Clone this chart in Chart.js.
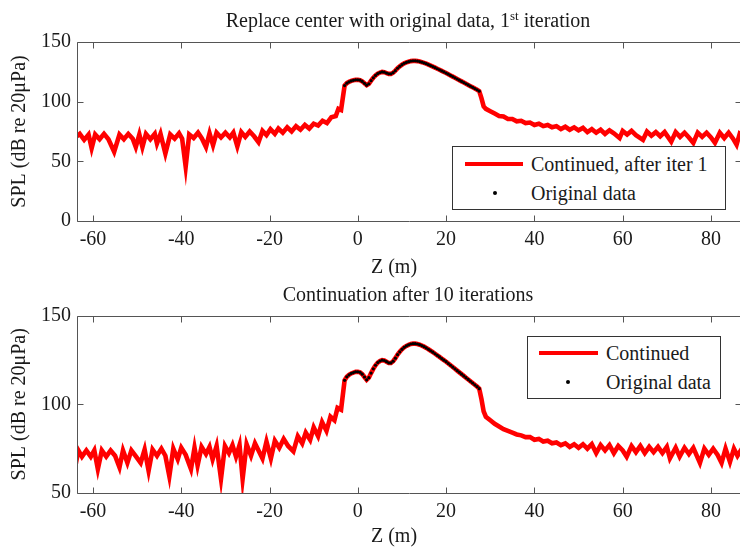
<!DOCTYPE html>
<html><head><meta charset="utf-8">
<script src="https://cdn.jsdelivr.net/npm/chart.js@4.4.1/dist/chart.umd.min.js"></script>
<style>
html,body{margin:0;padding:0;width:740px;height:554px;overflow:hidden;background:#fff;}
body{position:relative;font-family:'Liberation Serif','Times New Roman',serif;color:#1a1a1a;}
.cw{position:absolute;left:0;}
.t{position:absolute;font-size:20px;line-height:20px;white-space:nowrap;}
.ctr{transform:translateX(-50%);}
sup{font-size:13px;line-height:0;vertical-align:7px;}
.leg{position:absolute;border:1px solid #333;background:#fff;box-sizing:border-box;}
.ln{position:absolute;height:4px;background:#ff0000;}
.dot{position:absolute;width:4px;height:4px;border-radius:50%;background:#000;}
</style>
</head><body>
<div class="cw" style="top:0"><canvas id="c1" width="800" height="280"></canvas></div>
<div class="cw" style="top:280px"><canvas id="c2" width="800" height="274"></canvas></div>

<div class="t ctr" style="left:408px;top:10px">Replace center with original data, 1<sup>st</sup> iteration</div>
<div class="t ctr" style="left:408px;top:284px">Continuation after 10 iterations</div>
<div class="t ctr" style="left:394px;top:256px">Z (m)</div>
<div class="t ctr" style="left:394px;top:525px">Z (m)</div>

<div class="leg" style="left:452px;top:146px;width:274px;height:64px"></div>
<div class="ln" style="left:465px;top:162px;width:58px"></div>
<div class="t" style="left:531px;top:154px">Continued, after iter 1</div>
<div class="dot" style="left:493px;top:191px"></div>
<div class="t" style="left:531px;top:183px">Original data</div>

<div class="leg" style="left:527px;top:336px;width:194px;height:63px"></div>
<div class="ln" style="left:539px;top:351px;width:59px"></div>
<div class="t" style="left:606px;top:343px">Continued</div>
<div class="dot" style="left:566px;top:380px"></div>
<div class="t" style="left:606px;top:372px">Original data</div>

<script>
// ---- data ----
const xTicks = [-60,-40,-20,0,20,40,60,80];
const yTicksTop = [0,50,100,150];
const yTicksBottom = [50,100,150];

// original (measured) data, centre region
const origZ = [-3,-2.5,-2,-1.5,-1,-0.5,0,0.5,1,1.5,2,2.5,3,3.5,4,4.5,5,5.5,6,6.5,7,7.5,8,8.5,9,9.5,10,10.5,11,11.5,12,12.5,13,13.5,14,14.5,15,15.5,16,16.5,17,17.5,18,18.5,19,19.5,20,20.5,21,21.5,22,22.5,23,23.5,24,24.5,25,25.5,26,26.5,27,27.5];
const origSPL = [113.5,115.5,116.6,117.4,117.9,118.3,118.3,118.0,117.0,115.4,113.8,115.0,117.6,120.0,122.0,123.5,124.4,124.9,124.7,124.0,123.3,123.3,124.3,126.0,128.0,129.6,131.0,132.1,132.9,133.5,134.0,134.2,134.2,134.0,133.6,133.1,132.5,131.8,131.0,130.2,129.4,128.5,127.6,126.7,125.8,124.9,124.0,123.0,122.0,121.0,120.0,119.0,118.0,117.0,116.0,115.0,114.0,113.0,112.0,111.0,110.0,108.8];

// continuation after iteration 1 (outside the centre)
const it1LeftZ = [-64,-63,-62,-61,-60.3,-59.5,-58.5,-57.5,-56.5,-55.2,-54,-53,-52,-51,-50.3,-49.5,-48.8,-48,-47,-46,-45.5,-44.7,-43.6,-42.5,-41.5,-40.5,-39.8,-39,-38.2,-37.2,-36.2,-35.3,-34.4,-33.6,-32.8,-32,-31,-30,-29,-28.2,-27.3,-26.4,-25.5,-24.5,-23.5,-22.5,-21.6,-20.7,-19.8,-18.8,-18,-17,-16,-15,-14,-13,-12,-11,-10,-9,-8,-7,-6,-5,-4.4,-3.8];
const it1LeftSPL = [70,73,68,72.5,61,72.5,68.5,73,68.5,58,72.5,68.5,73,69,62,72.5,62,73,68.5,73,65,73,56.5,72.5,69,73.5,69,45.5,72.5,69.5,74,69,62,73.5,63.5,74,70,74,70,74,62.5,74.5,70.5,75,71,66,75.5,72,77,73,77.5,74,78.5,75,79.5,76.5,80.5,77.5,81.5,80,84,82,87,88,94,93];
const it1RightZ = [28,28.5,29,30,31,32,33,34,35,36,37,38,39,40,41,42,43,44,45,46,47,48,49,50,51,52,53,54,55,56,57,58,59.3,60,61,62,63,64.6,65.5,66.5,67.5,68.5,69.5,71,72,73,74,75,76,77,78,79,80,80.9,82,83,84,85,85.8,86.5,87.5];
const it1RightSPL = [103,96,94,92,90,88,87.5,85.5,85.5,83.5,84,82,82.5,80.5,81.5,79.5,80.5,78.5,79.5,77,79,76.5,78.5,76,78,74.5,77,74,76.5,73,76,73.5,69.5,75.5,72.5,75.5,72,68,75,71.5,74.5,71,74.5,66.5,74.5,70.5,74,70,65.5,74,70.5,74,70,65.5,74,69.5,74,69,64,73,70];

// continuation after 10 iterations (outside the centre)
const it10LeftZ = [-64,-63.3,-62.5,-61.5,-60.5,-59.7,-58.9,-58,-57,-56,-55,-54,-53.2,-52.2,-51.3,-50.4,-49.2,-48.3,-47.4,-46.5,-45.5,-44.5,-43.6,-42.7,-41.8,-40.8,-40,-39,-37.8,-37,-36.3,-35.4,-34.4,-33.6,-32.9,-32,-31,-30.1,-29.2,-28.4,-27.6,-26.8,-26.1,-25.2,-24.2,-23.3,-22.5,-21.6,-20.7,-19.7,-18.8,-17.8,-16.8,-15.8,-14.6,-13.6,-12.6,-11.8,-10.8,-10,-9,-8.1,-7.1,-6.2,-5.3,-4.6,-3.8];
const it10LeftSPL = [65,74,70.5,74,70.5,74,63.5,74,70.5,74,71,64.5,74,67,74,71,67,74.5,62.5,74.5,71,75,71,59.5,75,69,75.5,71.5,63.5,75.5,65.5,76,72,76,69,76.5,58,76.5,72.5,77,70.5,77,58,77.5,71,78,74,69.5,79,69.5,79.5,75.5,80.5,76.5,73.5,82,78,84,80,87,82,90,85,93,91,98,97];
const it10RightZ = [28,28.5,29,30,31,32,33,34,35,36,37,38,39,40,41,42,43,44,45,46,47,48,49,50,51,52,53,54,55,56,57,58,59,60,60.9,62,63,64,65,66,67,68,69,70,70.7,72,72.9,74,75,76,77.5,78.5,79.5,80.5,81.5,82.4,83.3,84.3,85.2,86,87];
const it10RightSPL = [103,96,93,91,89,87.5,86,85,84,83,82.5,81.5,81.5,80,80.5,79,79.5,78,78.5,77,78,76,77.5,75.5,77.5,75,77.5,72.5,77,74,77,72.5,76.5,74,70.5,76.5,73,76.5,72.5,76,73,76,72.5,76,69.5,75.5,70.5,75.5,72,75.5,67,75,71.5,75,71.5,67,75,67.5,75,71,75];

// ---- helpers ----
function pts(zs, vs){ return zs.map((z,i)=>({x:z, y:vs[i]})); }
const origPts = pts(origZ, origSPL);
const cont1 = pts(it1LeftZ,it1LeftSPL).concat(origPts, pts(it1RightZ,it1RightSPL));
const cont10 = pts(it10LeftZ,it10LeftSPL).concat(origPts, pts(it10RightZ,it10RightSPL));

const FONT = "'Liberation Serif','Times New Roman',serif";
Chart.defaults.font.family = FONT;
Chart.defaults.font.size = 20;
Chart.defaults.color = '#1a1a1a';

const framePlugin = {
  id:'frame',
  afterDatasetsDraw(chart){
    const {ctx, chartArea:a, scales:{x,y}} = chart;
    ctx.save();
    ctx.strokeStyle='#555'; ctx.lineWidth=1;
    const L=Math.round(a.left)+0.5, R=Math.round(a.right)+0.5, T=Math.round(a.top)+0.5, B=Math.round(a.bottom)+0.5;
    ctx.beginPath();
    ctx.moveTo(L,T); ctx.lineTo(R,T); ctx.lineTo(R,B); ctx.lineTo(L,B); ctx.closePath();
    x.ticks.forEach(t=>{const px=Math.round(x.getPixelForValue(t.value))+0.5; ctx.moveTo(px,B); ctx.lineTo(px,B-6); ctx.moveTo(px,T); ctx.lineTo(px,T+6);});
    y.ticks.forEach(t=>{const py=Math.round(y.getPixelForValue(t.value))+0.5; ctx.moveTo(L,py); ctx.lineTo(L+6,py); ctx.moveTo(R,py); ctx.lineTo(R-6,py);});
    ctx.stroke(); ctx.restore();
  }
};

function makeChart(id, cont, yMin, yMax, yTicks, padTop, xAxisH){
  return new Chart(document.getElementById(id), {
    type:'line',
    data:{datasets:[
      {label:'Original data', data:origPts, showLine:false, pointRadius:1.6, pointBorderWidth:0, pointBackgroundColor:'#000', borderColor:'#000', order:0},
      {label:'Continued', data:cont, borderColor:'#ff0000', borderWidth:4.6, pointRadius:0, tension:0, fill:false, order:1}
    ]},
    options:{
      responsive:false, animation:false, devicePixelRatio:1,
      layout:{padding:{top:padTop, right:59, bottom:0, left:0}},
      plugins:{legend:{display:false}, tooltip:{enabled:false}, title:{display:false}},
      scales:{
        x:{type:'linear', min:-63.62, max:86.8,
           afterBuildTicks:s=>{s.ticks = xTicks.map(v=>({value:v}));},
           afterFit:s=>{s.height = xAxisH;},
           grid:{display:false, drawTicks:false}, border:{display:false},
           ticks:{padding:7, maxRotation:0, autoSkip:false, color:'#1a1a1a', font:{size:20}},
           title:{display:false}},
        y:{type:'linear', min:yMin, max:yMax,
           afterBuildTicks:s=>{s.ticks = yTicks.map(v=>({value:v}));},
           afterFit:s=>{s.width = 77;},
           grid:{display:false, drawTicks:false}, border:{display:false},
           ticks:{padding:6, color:'#1a1a1a', font:{size:20}},
           title:{display:true, text:'SPL (dB re 20μPa)', font:{size:20}, color:'#1a1a1a', padding:{top:8,bottom:0}}}
      }
    },
    plugins:[framePlugin]
  });
}

makeChart('c1', cont1, 0, 150, yTicksTop, 42, 59);
makeChart('c2', cont10, 50, 150, yTicksBottom, 35.6, 61);
</script>
</body></html>
